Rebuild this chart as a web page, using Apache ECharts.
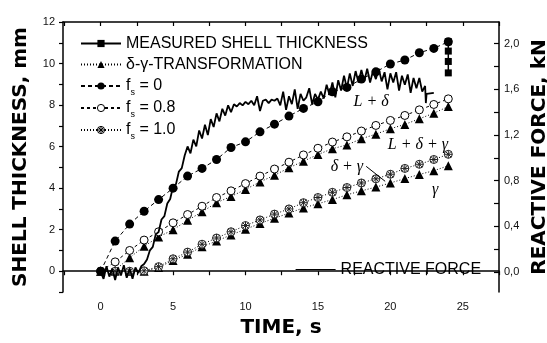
<!DOCTYPE html>
<html>
<head>
<meta charset="utf-8">
<script src="https://cdn.jsdelivr.net/npm/echarts@6/dist/echarts.min.js"></script>
<style>html,body{margin:0;padding:0;background:#fff}#c{width:547px;height:343px}</style>
</head>
<body>
<div id="c"></div>
<script>
// ---- data ----
const times = [0,1,2,3,4,5,6,7,8,9,10,11,12,13,14,15,16,17,18,19,20,21,22,23,24];
const fs0   = [0,1.45,2.27,2.89,3.45,4.0,4.58,4.95,5.38,5.96,6.23,6.71,7.08,7.47,7.84,8.16,8.64,8.85,9.25,9.6,9.98,10.17,10.52,10.73,11.05];
const fs08  = [0,0.45,1.0,1.5,1.9,2.33,2.73,3.13,3.55,3.87,4.22,4.58,4.92,5.25,5.6,5.92,6.22,6.47,6.75,7.02,7.26,7.5,7.77,8.03,8.3];
const dgUp  = [0,0.05,0.65,1.2,1.65,2.0,2.45,2.86,3.3,3.6,3.94,4.3,4.62,4.98,5.3,5.62,5.9,6.08,6.38,6.6,6.86,7.07,7.34,7.61,7.93];
const fs10  = [0,0,0,0.02,0.22,0.6,0.92,1.3,1.6,1.9,2.2,2.47,2.75,3.0,3.3,3.55,3.8,4.03,4.25,4.45,4.67,4.95,5.15,5.38,5.63];
const dgLow = [0,0,0,0,0.18,0.52,0.82,1.18,1.45,1.75,2.02,2.3,2.55,2.8,3.05,3.25,3.45,3.68,3.87,4.05,4.25,4.46,4.66,4.84,5.08];
const measT = [24,24,24,24];
const measV = [11.05,10.6,10.1,9.55];
const forceT = [0,0.2,0.4,0.6,0.8,1.0,1.2,1.4,1.6,1.8,2.0,2.2,2.4,2.6,2.8,3.0,3.2,3.4,3.6,3.8,4.0,4.2,4.4,4.6,4.8,5.0,5.2,5.4,5.6,5.8,6.0,6.2,6.4,6.6,6.8,7.0,7.2,7.4,7.6,7.8,8.0,8.2,8.4,8.6,8.8,9.0,9.2,9.4,9.6,9.8,10.0,10.2,10.4,10.6,10.8,11.0,11.2,11.4,11.6,11.8,12.0,12.2,12.4,12.6,12.8,13.0,13.2,13.4,13.6,13.8,14.0,14.2,14.4,14.6,14.8,15.0,15.2,15.4,15.6,15.8,16.0,16.2,16.4,16.6,16.8,17.0,17.2,17.4,17.6,17.8,18.0,18.2,18.4,18.6,18.8,19.0,19.2,19.4,19.6,19.8,20.0,20.2,20.4,20.6,20.8,21.0,21.2,21.4,21.6,21.8,22.0,22.2,22.4,22.45,22.5,22.6,23.0];
const forceV = [0.00,-0.06,0.05,-0.04,0.03,-0.07,0.04,-0.03,0.06,-0.05,0.03,-0.06,0.04,-0.01,0.05,0.07,0.11,0.19,0.22,0.33,0.35,0.46,0.49,0.60,0.64,0.75,0.77,0.88,0.91,1.02,1.10,1.04,1.16,1.10,1.24,1.17,1.29,1.20,1.34,1.27,1.39,1.32,1.43,1.37,1.46,1.40,1.47,1.45,1.48,1.46,1.49,1.47,1.50,1.46,1.54,1.41,1.50,1.51,1.48,1.51,1.50,1.52,1.46,1.58,1.42,1.54,1.47,1.60,1.43,1.56,1.50,1.53,1.61,1.47,1.56,1.51,1.58,1.52,1.64,1.55,1.66,1.53,1.68,1.59,1.72,1.61,1.74,1.63,1.76,1.66,1.77,1.67,1.78,1.66,1.76,1.69,1.78,1.67,1.75,1.60,1.74,1.66,1.75,1.59,1.72,1.64,1.73,1.57,1.70,1.61,1.70,1.58,1.63,1.48,1.56,1.55,1.57];
const xLabels = [0,5,10,15,20,25];
const xTicks = [-2.5,0,2.5,5,7.5,10,12.5,15,17.5,20,22.5,25,27.5];
const yLabels = [0,2,4,6,8,10,12];
const yTicks = [-1,0,1,2,3,4,5,6,7,8,9,10,11,12];
const fLabels = [0,0.4,0.8,1.2,1.6,2.0];
const fTicks = [0,0.2,0.4,0.6,0.8,1.0,1.2,1.4,1.6,1.8,2.0];

const pairs = (xs, ys) => xs.map((x, i) => [x, ys[i]]);
const legendNames = {
  'fs0': 'f{s|s} = 0', 'fs08': 'f{s|s} = 0.8', 'fs10': 'f{s|s} = 1.0'
};
const crossCircle = 'path://M0,-10A10,10 0 1,1 0,10A10,10 0 1,1 0,-10Z M-7,-7L7,7 M7,-7L-7,7 M-10,0L10,0 M0,-10L0,10';
const sansFont = 'Liberation Sans';
const titleFont = 'DejaVu Sans';
const tickLabel = {fontFamily: sansFont, fontSize: 11, color: '#111'};

const chart = echarts.init(document.getElementById('c'), null, {renderer: 'canvas'});
const option = {
  animation: false,
  backgroundColor: '#fff',
  grid: {left: 63, right: 48, top: 22, bottom: 51, containLabel: false, outerBoundsMode: 'none'},
  legend: [{
    data: [
      {name: 'MEASURED SHELL THICKNESS'},
      {name: 'δ-γ-TRANSFORMATION'},
      {name: 'fs0'},
      {name: 'fs08', itemStyle: {color: '#fff', borderColor: '#000', borderWidth: 1}},
      {name: 'fs10', itemStyle: {color: '#fff', borderColor: '#000', borderWidth: 1}}
    ],
    orient: 'vertical', left: 80, top: 33, padding: 0, itemGap: 0,
    itemWidth: 40, itemHeight: 9, selectedMode: false,
    formatter: n => legendNames[n] || n,
    textStyle: {fontFamily: sansFont, fontSize: 16, color: '#000', lineHeight: 21,
      rich: {s: {fontFamily: sansFont, fontSize: 9, color: '#000', lineHeight: 22, verticalAlign: 'bottom'}}}
  }, {
    data: [{name: 'REACTIVE FORCE', itemStyle: {opacity: 0}, lineStyle: {width: 1.2}}],
    left: 295, top: 259, padding: 0, itemWidth: 40, itemHeight: 9, selectedMode: false,
    textStyle: {fontFamily: sansFont, fontSize: 16, color: '#000', lineHeight: 21}
  }],
  xAxis: [{
    type: 'value', min: -2.6, max: 27.5, position: 'bottom',
    name: 'TIME, s', nameLocation: 'middle', nameGap: 26,
    nameTextStyle: {fontFamily: titleFont, fontWeight: 'bold', fontSize: 20, color: '#000'},
    axisLine: {show: true, lineStyle: {color: '#000', width: 1.5}},
    axisTick: {show: true, inside: false, length: 4, customValues: xTicks, lineStyle: {color: '#000', width: 1.2}},
    axisLabel: Object.assign({customValues: xLabels, margin: 9}, tickLabel),
    splitLine: {show: false}
  }, {
    type: 'value', min: -2.6, max: 27.5, position: 'top',
    axisLine: {show: true, onZero: false, lineStyle: {color: '#000', width: 1.5}},
    axisTick: {show: true, inside: true, length: 4, customValues: xTicks, lineStyle: {color: '#000', width: 1.2}},
    axisLabel: {show: false}, splitLine: {show: false}
  }],
  yAxis: [{
    type: 'value', min: -1, max: 12, position: 'left',
    name: 'SHELL THICKNESS, mm', nameLocation: 'middle', nameGap: 32, nameRotate: 90,
    nameTextStyle: {fontFamily: titleFont, fontWeight: 'bold', fontSize: 20, color: '#000'},
    axisLine: {show: true, onZero: false, lineStyle: {color: '#000', width: 1.5}},
    axisTick: {show: true, inside: false, length: 4, customValues: yTicks, lineStyle: {color: '#000', width: 1.2}},
    axisLabel: Object.assign({customValues: yLabels, margin: 8}, tickLabel),
    splitLine: {show: false}
  }, {
    type: 'value', min: -0.175, max: 2.19, position: 'right',
    name: 'REACTIVE FORCE, kN', nameLocation: 'middle', nameGap: 29, nameRotate: 90,
    nameTextStyle: {fontFamily: titleFont, fontWeight: 'bold', fontSize: 20, color: '#000'},
    axisLine: {show: true, onZero: false, lineStyle: {color: '#000', width: 1.5}},
    axisTick: {show: true, inside: true, length: 5, customValues: fTicks, lineStyle: {color: '#000', width: 1.2}},
    axisLabel: Object.assign({customValues: fLabels, margin: 5,
      formatter: v => v.toFixed(1).replace('.', ',')}, tickLabel),
    splitLine: {show: false}
  }],
  series: [{
    name: 'fs10', type: 'line', data: pairs(times, fs10),
    symbol: crossCircle, symbolSize: 8, symbolKeepAspect: true,
    itemStyle: {color: '#fff', borderColor: '#222', borderWidth: 1},
    lineStyle: {color: '#000', width: 1, type: [1, 2]}, z: 3
  }, {
    name: 'δ-γ-TRANSFORMATION', type: 'line', data: pairs(times, dgLow),
    symbol: 'triangle', symbolSize: 9,
    itemStyle: {color: '#000'}, lineStyle: {color: '#000', width: 1, type: [1, 2]}, z: 2
  }, {
    name: 'δ-γ-TRANSFORMATION', type: 'line', data: pairs(times, dgUp),
    symbol: 'triangle', symbolSize: 9,
    itemStyle: {color: '#000'}, lineStyle: {color: '#000', width: 1, type: [1, 2]}, z: 2
  }, {
    name: 'fs08', type: 'line', data: pairs(times, fs08),
    symbol: 'circle', symbolSize: 8,
    itemStyle: {color: '#fff', borderColor: '#000', borderWidth: 1},
    lineStyle: {color: '#000', width: 1, type: [3, 3]}, z: 3
  }, {
    name: 'fs0', type: 'line', data: pairs(times, fs0),
    symbol: 'circle', symbolSize: 9,
    itemStyle: {color: '#000'}, lineStyle: {color: '#000', width: 1, type: [4, 3]}, z: 3
  }, {
    name: 'MEASURED SHELL THICKNESS', type: 'line', data: pairs(measT, measV),
    symbol: 'rect', symbolSize: 7,
    itemStyle: {color: '#000'}, lineStyle: {color: '#000', width: 1.5}, z: 4
  }, {
    name: 'REACTIVE FORCE', type: 'line', yAxisIndex: 1, data: pairs(forceT, forceV),
    symbol: 'none', showSymbol: false,
    itemStyle: {color: '#000'},
    lineStyle: {color: '#000', width: 1.8}, z: 5
  }]
};
chart.setOption(option);

// annotations placed in data coordinates
const notes = [
  {text: 'L + δ', at: [18.67, 8.17]},
  {text: 'L + δ + γ', at: [21.9, 6.1]},
  {text: 'δ + γ', at: [17.0, 5.05]},
  {text: 'γ', at: [23.1, 3.9]}
];
const pointer = [[18.33, 5.05], [19.64, 4.33]];
const px = p => chart.convertToPixel({xAxisIndex: 0, yAxisIndex: 0}, p);
const graphics = notes.map(n => {
  const p = px(n.at);
  return {type: 'text', x: p[0], y: p[1], z: 10,
    style: {text: n.text, font: 'italic 16px "Liberation Serif"', fill: '#000', align: 'center', verticalAlign: 'middle'}};
});
const a = px(pointer[0]), b = px(pointer[1]);
graphics.push({type: 'line', z: 10, shape: {x1: a[0], y1: a[1], x2: b[0], y2: b[1]}, style: {stroke: '#000', lineWidth: 1}});
chart.setOption({graphic: graphics});
</script>
</body>
</html>
